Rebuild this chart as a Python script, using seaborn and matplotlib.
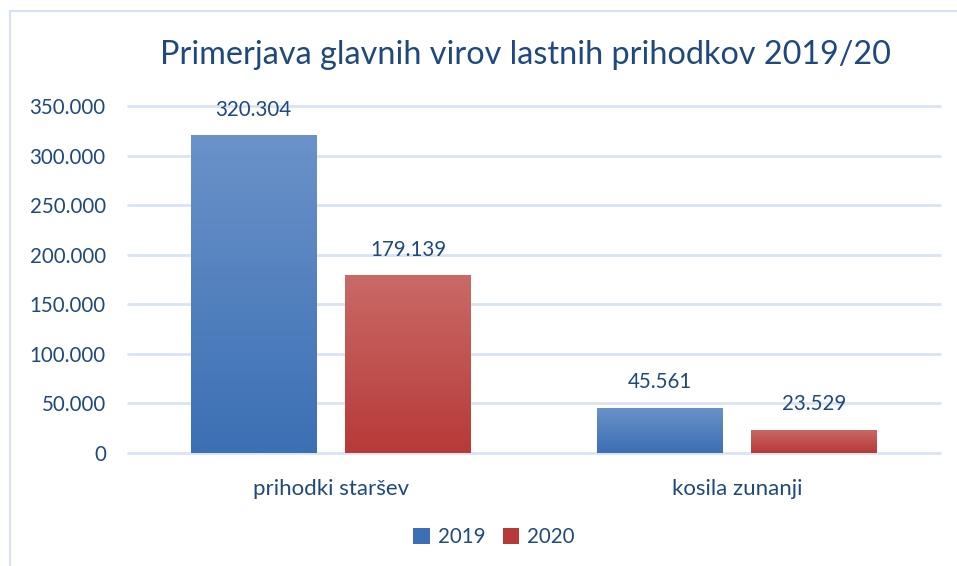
import numpy as np
import pandas as pd
import matplotlib
matplotlib.use("Agg")
import matplotlib.pyplot as plt
import matplotlib.colors as mcolors
from matplotlib.patches import Rectangle, Patch
import seaborn as sns

title = "Primerjava glavnih virov lastnih prihodkov 2019/20"
categories = ["prihodki staršev", "kosila zunanji"]
years = ["2019", "2020"]
values_2019 = [320304, 45561]
values_2020 = [179139, 23529]
yticks = [0, 50000, 100000, 150000, 200000, 250000, 300000, 350000]

df = pd.DataFrame({
    "cat": categories * 2,
    "year": [years[0]] * 2 + [years[1]] * 2,
    "value": values_2019 + values_2020,
})

text_col = "#1f497d"
grid_col = "#d9e3f2"
grads = {
    "2019": ("#6b92c9", "#3b70b4"),
    "2020": ("#c96a67", "#b73a38"),
}
base = {"2019": "#4f81bd", "2020": "#c0504d"}

sns.set_theme(style="white")
plt.rcParams["font.family"] = ["Lato", "DejaVu Sans"]

W, H = 957, 566
fig = plt.figure(figsize=(W / 100, H / 100), dpi=100)
fig.patch.set_facecolor("white")

# outer chart border
fig.patches.append(Rectangle((9.5 / W, -0.1), 1.2, (H - 10.5) / H + 0.1,
                             transform=fig.transFigure, fill=False,
                             edgecolor="#d6e2f3", linewidth=1.5))

ax_left, ax_right = 128 / W, 940 / W
ax_bottom, ax_top = (H - 453) / H, (H - 106) / H
ax = fig.add_axes([ax_left, ax_bottom, ax_right - ax_left, ax_top - ax_bottom])

sns.barplot(data=df, x="cat", y="value", hue="year", order=categories,
            hue_order=years, palette=base, width=0.763, gap=0.187,
            ax=ax, legend=False, saturation=1)

ax.set_ylim(0, 350000)
ax.set_xlim(-0.5, 1.5)

# gradient fill
for cont, yr in zip(ax.containers, years):
    top_c, bot_c = grads[yr]
    cmap = mcolors.LinearSegmentedColormap.from_list("g", [bot_c, top_c])
    for p in cont.patches:
        x0, w, h = p.get_x(), p.get_width(), p.get_height()
        grad = np.linspace(1, 0, 256).reshape(-1, 1)
        p.set_facecolor("none")
        p.set_edgecolor("none")
        im = ax.imshow(grad, extent=[x0, x0 + w, 0, h], aspect="auto",
                       cmap=cmap, origin="upper", zorder=2)
        im.set_clip_path(p)
        ax.text(x0 + w / 2, h + 15500, f"{int(h):,}".replace(",", "."),
                ha="center", va="bottom", color=text_col, fontsize=14.8)

ax.set_ylim(0, 350000)
ax.set_xlim(-0.5, 1.5)

ax.set_yticks(yticks)
ax.set_yticklabels(["0" if v == 0 else f"{v:,}".replace(",", ".") for v in yticks],
                   color=text_col, fontsize=14.8)
ax.tick_params(axis="y", length=0, pad=16)
ax.tick_params(axis="x", length=0, pad=19, labelsize=16, labelcolor=text_col)
ax.set_xlabel("")
ax.set_ylabel("")
for s in ax.spines.values():
    s.set_visible(False)
ax.grid(axis="y", color=grid_col, linewidth=2)
ax.set_axisbelow(True)
for gl in ax.get_ygridlines():
    gl.set_clip_on(False)

fig.text(525 / W, (H - 55) / H, title, ha="center", va="center",
         color=text_col, fontsize=23.3)

handles = [Patch(facecolor=grads[y][1], edgecolor="none") for y in years]
fig.legend(handles, years, loc="center", bbox_to_anchor=(494 / W, (H - 537) / H),
           ncol=2, frameon=False, fontsize=14.8, labelcolor=text_col,
           handlelength=0.8, handleheight=0.8, handletextpad=0.4,
           columnspacing=0.85)

fig.savefig("out.png", dpi=100)
